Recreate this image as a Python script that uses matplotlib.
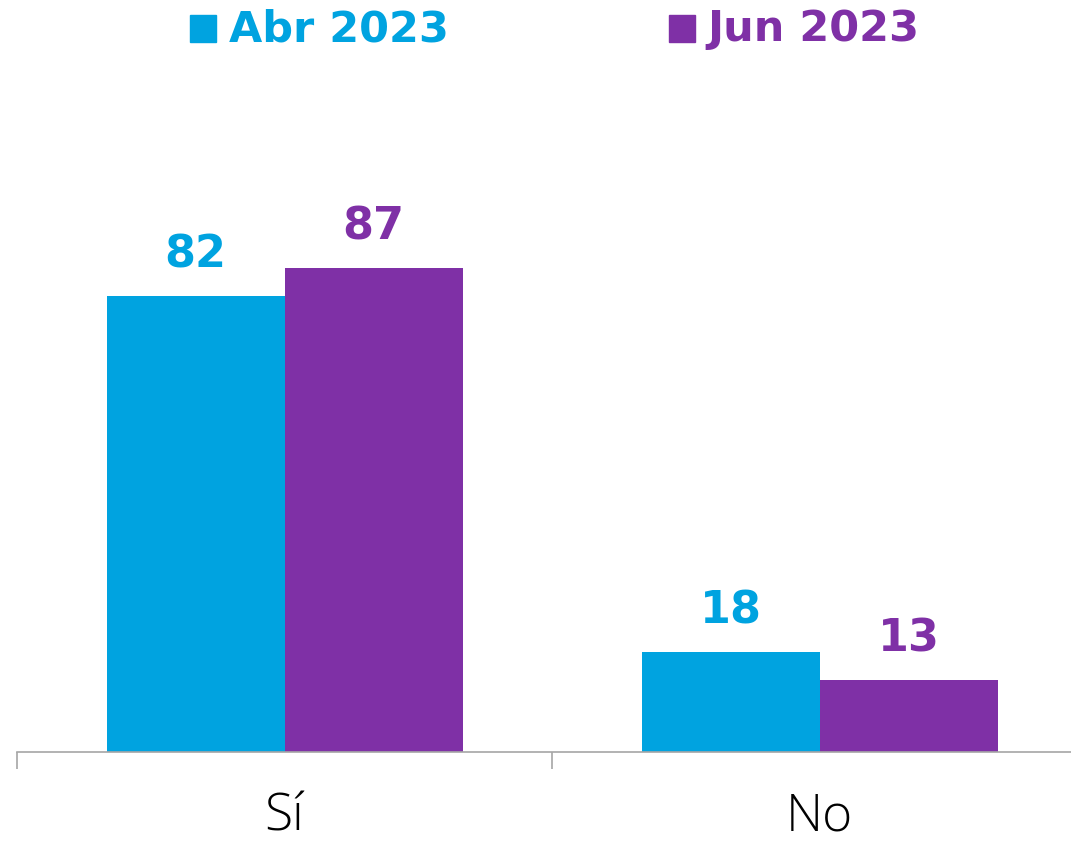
import numpy as np
import matplotlib
matplotlib.use("Agg")
import matplotlib.pyplot as plt
from matplotlib.patches import Rectangle

# Data
categories = ["Sí", "No"]
series_names = ["Abr 2023", "Jun 2023"]
abr_values = [82, 18]
jun_values = [87, 13]

BLUE = "#00A3E0"
PURPLE = "#7F30A6"
AXIS_GRAY = "#A6A6A6"

W, H = 1071, 846
fig = plt.figure(figsize=(W / 100, H / 100), dpi=100)

# axes: baseline at y=752px, left boundary tick at x=17px, 535px per category
cat_px = 535
ax = fig.add_axes([17 / W, (H - 752) / H, (W - 17) / W, 556 / H])

x = np.arange(len(categories))
bw = 178 / cat_px
ax.bar(x - bw / 2, abr_values, width=bw, color=BLUE, zorder=2)
ax.bar(x + bw / 2, jun_values, width=bw, color=PURPLE, zorder=2)

lab_font = dict(family="DejaVu Sans", weight="bold", fontsize=32)
for xi, v in zip(x - bw / 2, abr_values):
    ax.annotate(f"{v}", (xi, v), xytext=(0, 14), textcoords="offset points",
                ha="center", va="bottom", color=BLUE, **lab_font)
for xi, v in zip(x + bw / 2, jun_values):
    ax.annotate(f"{v}", (xi, v), xytext=(0, 14), textcoords="offset points",
                ha="center", va="bottom", color=PURPLE, **lab_font)

for s in ["top", "right", "left"]:
    ax.spines[s].set_visible(False)
ax.spines["bottom"].set_color(AXIS_GRAY)
ax.spines["bottom"].set_linewidth(1.2)
ax.set_yticks([])

ax.set_xticks(x)
ax.set_xticklabels(categories, family="Open Sans", weight="light", fontsize=37)
ax.tick_params(axis="x", which="major", length=0, pad=28)
ax.set_xticks([-0.5, 0.5, 1.5], minor=True)
ax.tick_params(axis="x", which="minor", length=12, width=1.2, color=AXIS_GRAY)

# limits set after ticks so the tick at 1.5 does not widen the view
ax.set_xlim(-0.5, -0.5 + (W - 17) / cat_px)
ax.set_ylim(0, 100)

# legend drawn at the top
leg_font = dict(family="DejaVu Sans", weight="bold", fontsize=31)
for sx, tx, name, col in [(190, 229, series_names[0], BLUE), (669, 707, series_names[1], PURPLE)]:
    fig.add_artist(Rectangle((sx / W, (H - 42) / H), 26 / W, 27 / H,
                             transform=fig.transFigure, color=col))
    fig.text(tx / W, (H - 29) / H, name, ha="left", va="center", color=col, **leg_font)

fig.savefig("out.png", dpi=100)
